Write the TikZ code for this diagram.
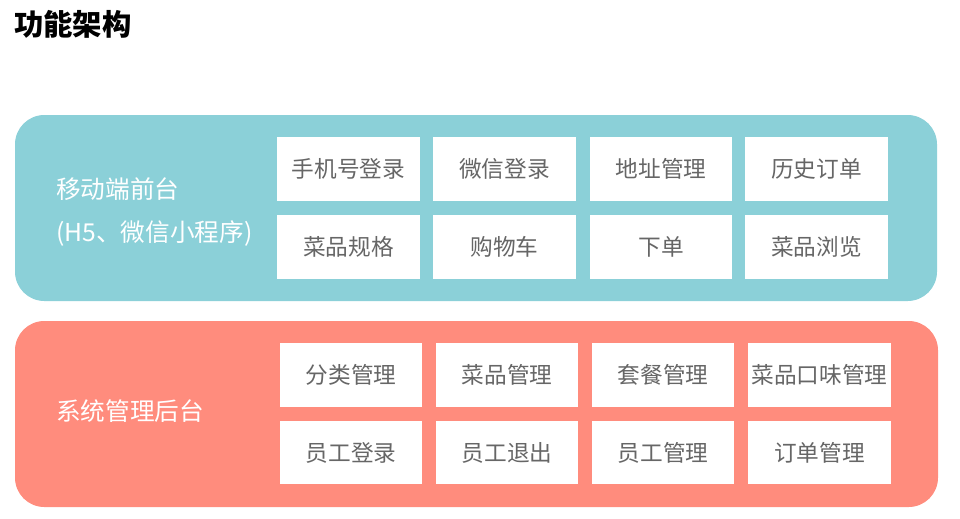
\documentclass[tikz,border=0pt]{standalone}
\usepackage{fontspec}
\setmainfont{Noto Sans CJK SC}
\usepackage{xcolor}
\usetikzlibrary{positioning}
\definecolor{tealpanel}{HTML}{8BD0D8}
\definecolor{salmonpanel}{HTML}{FF8C7D}
\definecolor{boxtext}{HTML}{666666}

\begin{document}
\begin{tikzpicture}[x=0.75pt,y=-0.75pt]
\tikzset{
  pn/.style={rounded corners=22pt,draw=none},
  fb/.style={rectangle,fill=white,minimum width=107pt,minimum height=47.5pt,inner sep=0pt,text=boxtext,font=\fontsize{17}{19}\selectfont},
  pt/.style={text=white,font=\fontsize{18.5}{21}\selectfont,anchor=west,inner sep=0pt}
}
\useasboundingbox (0,0) rectangle (960,518);
\node[anchor=west,inner sep=0pt,font=\fontsize{22}{25}\bfseries\selectfont] (title) at (14,24) {功能架构};
% front end panel
\fill[tealpanel,pn] (15,115) rectangle (937,301);
\node[pt] (fe1) at (56,189) {移动端前台};
\node[pt] (fe2) at (56,233) {(H5、微信小程序)};
\node[fb] (f1) at (348.5,169) {手机号登录};
\node[fb] (f2) at (504.5,169) {微信登录};
\node[fb] (f3) at (661,169) {地址管理};
\node[fb] (f4) at (816.5,169) {历史订单};
\node[fb] (f5) at (348.5,247) {菜品规格};
\node[fb] (f6) at (504.5,247) {购物车};
\node[fb] (f7) at (661,247) {下单};
\node[fb] (f8) at (816.5,247) {菜品浏览};
% admin panel
\fill[salmonpanel,pn] (15,321) rectangle (938,507);
\node[pt] (be1) at (56,411) {系统管理后台};
\node[fb] (b1) at (351,375) {分类管理};
\node[fb] (b2) at (507,375) {菜品管理};
\node[fb] (b3) at (663,375) {套餐管理};
\node[fb] (b4) at (819.5,375) {菜品口味管理};
\node[fb] (b5) at (351,452.5) {员工登录};
\node[fb] (b6) at (507,452.5) {员工退出};
\node[fb] (b7) at (663,452.5) {员工管理};
\node[fb] (b8) at (819.5,452.5) {订单管理};
\end{tikzpicture}
\end{document}
